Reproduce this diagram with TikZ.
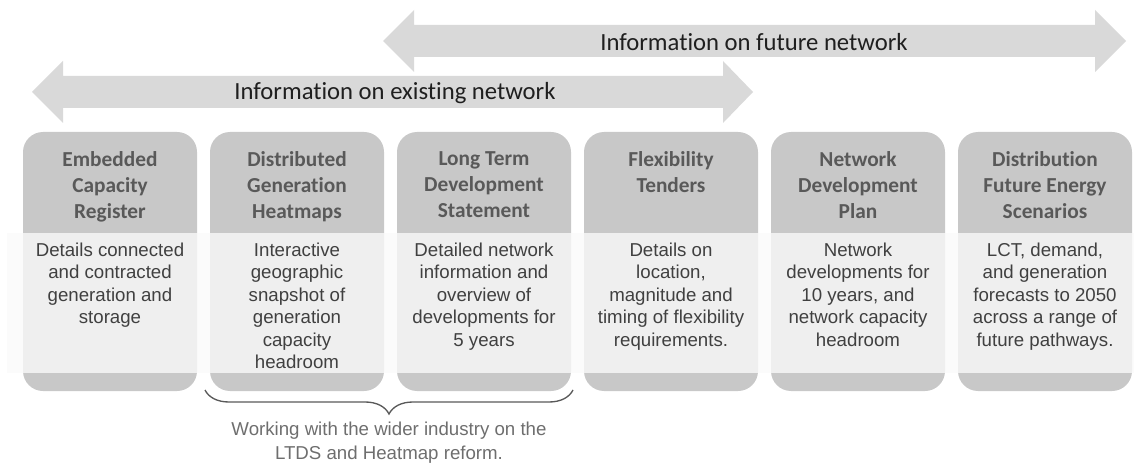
\documentclass[tikz,border=0pt]{standalone}
\usepackage{fontspec}
\setmainfont{Carlito}[Ligatures={NoCommon}]
\newfontfamily\arialfont{Liberation Sans}
\usepackage{xcolor}
\usepackage{tikz}
\usetikzlibrary{positioning, decorations.pathreplacing, calc}

\definecolor{arrowgray}{HTML}{D9D9D9}
\definecolor{boxgray}{HTML}{C8C8C8}
\definecolor{bandgray}{HTML}{FAFAFA}
\definecolor{titlegray}{HTML}{595959}
\definecolor{bodygray}{HTML}{404040}
\definecolor{notegray}{HTML}{6E6E6E}

\begin{document}
\begin{tikzpicture}[x=0.75pt, y=-0.75pt,
    card/.style={fill=boxgray, rounded corners=15pt, minimum width=130.5pt, minimum height=194.25pt, inner sep=0pt},
    cardtitle/.style={align=center, inner sep=0pt, text=titlegray, font=\fontsize{16}{19.5}\selectfont\bfseries},
    cardtext/.style={align=center, inner sep=0pt, text=bodygray, font=\arialfont\fontsize{14}{16.9}\selectfont},
    banner/.style={fill=arrowgray},
    bannertext/.style={inner sep=0pt, text=black!88, font=\fontsize{18.5}{22}\selectfont}]
        \useasboundingbox (0,0) rectangle (1134,463);

        % the two double arrows
        \fill[banner] (383,41) -- (414,10) -- (414,25) -- (1095,25) -- (1095,10) -- (1126,41) -- (1095,72) -- (1095,57) -- (414,57) -- (414,72) -- cycle;
        \fill[banner] (32,92) -- (63,61) -- (63,76) -- (723,76) -- (723,61) -- (753,92) -- (723,123) -- (723,108) -- (63,108) -- (63,123) -- cycle;
        \node[bannertext] (future) at (754,42) {Information on future network};
        \node[bannertext] (existing) at (395,93) {Information on existing network};

        % cards
        \node[card] (b1) at (110,261.5) {};
        \node[card] (b2) at (297,261.5) {};
        \node[card] (b3) at (484,261.5) {};
        \node[card] (b4) at (671,261.5) {};
        \node[card] (b5) at (858,261.5) {};
        \node[card] (b6) at (1045,261.5) {};

        % light band across the cards
        \fill[bandgray, opacity=0.78] (7,233) rectangle (1134,373);

        \node[cardtitle, below=15pt of b1.north] (t1) {Embedded\\Capacity\\Register};
        \node[cardtitle, below=15pt of b2.north] (t2) {Distributed\\Generation\\Heatmaps};
        \node[cardtitle, below=15pt of b3.north] (t3) {Long Term\\Development\\Statement};
        \node[cardtitle, below=15pt of b4.north] (t4) {Flexibility\\Tenders};
        \node[cardtitle, below=15pt of b5.north] (t5) {Network\\Development\\Plan};
        \node[cardtitle, below=15pt of b6.north] (t6) {Distribution\\Future Energy\\Scenarios};

        \node[cardtext, below=83pt of b1.north] (d1) {Details connected\\and contracted\\generation and\\storage};
        \node[cardtext, below=83pt of b2.north] (d2) {Interactive\\geographic\\snapshot of\\generation\\capacity\\headroom};
        \node[cardtext, below=83pt of b3.north] (d3) {Detailed network\\information and\\overview of\\developments for\\5 years};
        \node[cardtext, below=83pt of b4.north] (d4) {Details on\\location,\\magnitude and\\timing of flexibility\\requirements.};
        \node[cardtext, below=83pt of b5.north] (d5) {Network\\developments for\\10 years, and\\network capacity\\headroom};
        \node[cardtext, below=83pt of b6.north] (d6) {LCT, demand,\\and generation\\forecasts to 2050\\across a range of\\future pathways.};

        % brace under LTDS and heatmaps
        \coordinate (braceL) at (205,390);
        \coordinate (braceR) at (573,390);
        \draw[titlegray, line width=1pt, decorate, decoration={brace, mirror, amplitude=18pt}] (braceL) -- (braceR);
        \node[align=center, inner sep=0pt, text=notegray, font=\arialfont\fontsize{14}{17.6}\selectfont, anchor=north] (note) at (389,422) {Working with the wider industry on the\\LTDS and Heatmap reform.};
    \end{tikzpicture}
\end{document}
